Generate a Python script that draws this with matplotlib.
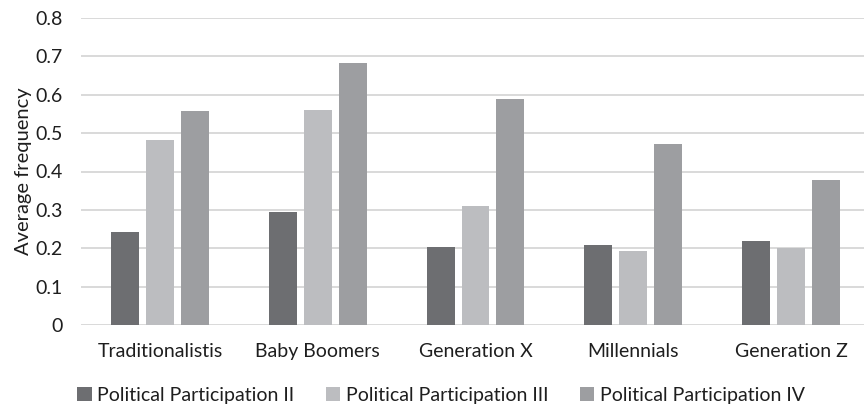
import matplotlib
matplotlib.use("Agg")
import matplotlib.pyplot as plt
import numpy as np

plt.rcParams['font.family'] = ['Lato', 'DejaVu Sans']

generations = ['Traditionalistis', 'Baby Boomers', 'Generation X', 'Millennials', 'Generation Z']
series_names = ['Political Participation II', 'Political Participation III', 'Political Participation IV']
pp2 = [0.242, 0.294, 0.204, 0.208, 0.220]
pp3 = [0.482, 0.560, 0.310, 0.193, 0.200]
pp4 = [0.557, 0.683, 0.589, 0.471, 0.378]
colors = ['#6d6e71', '#bcbdc0', '#9d9ea1']
yticks = [0, 0.1, 0.2, 0.3, 0.4, 0.5, 0.6, 0.7, 0.8]
ytick_labels = ['0', '0.1', '0.2', '0.3', '0.4', '0.5', '0.6', '0.7', '0.8']

W, H = 864, 405
fig = plt.figure(figsize=(W / 100, H / 100), dpi=100)
ax = fig.add_axes([81 / W, (H - 325) / H, (870 - 81) / W, (325 - 18) / H])

x = np.arange(len(generations))
width = 0.177
step = 0.2215
for i, (vals, name) in enumerate(zip([pp2, pp3, pp4], series_names)):
    ax.bar(x + (i - 1) * step, vals, width, color=colors[i], label=name, zorder=3)

ax.set_xlim(-0.5, len(generations) - 0.5)
ax.set_ylim(0, 0.8)
ax.set_yticks(yticks)
ax.set_yticklabels(ytick_labels)
ax.set_xticks(x)
ax.set_xticklabels(generations)
ax.grid(axis='y', color='#d0d0d0', linewidth=1.1, zorder=0)
for s in ax.spines.values():
    s.set_visible(False)
ax.tick_params(axis='both', length=0, labelsize=14, colors='#1e1e1e')
ax.tick_params(axis='y', pad=13.5)
ax.tick_params(axis='x', pad=13)
ax.set_ylabel('Average frequency', fontsize=14.5, color='#1e1e1e', labelpad=2)

fig.legend(loc='center', bbox_to_anchor=(441 / W, (H - 395) / H), ncol=3, frameon=False,
           fontsize=14, handlelength=0.75, handleheight=0.75, handletextpad=0.3,
           columnspacing=1.6, labelcolor='#1e1e1e')

fig.savefig('out.png', dpi=100)
